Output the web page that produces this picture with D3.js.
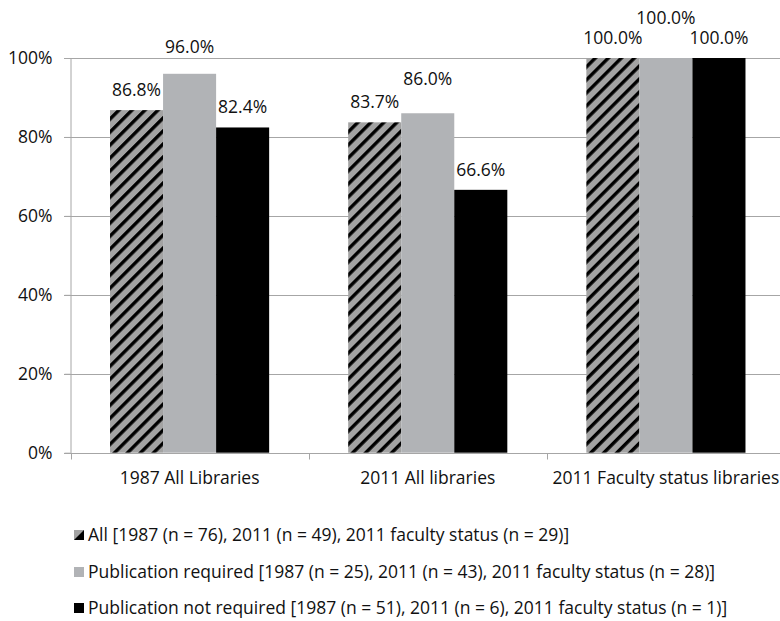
<!DOCTYPE html>
<html>
<head>
<meta charset="utf-8">
<script src="https://cdn.jsdelivr.net/npm/d3@7"></script>
<style>
  html, body { margin: 0; padding: 0; background: #fff; }
  svg { display: block; font-family: "Open Sans", sans-serif; }
</style>
</head>
<body>
<svg id="chart" width="780" height="621"></svg>
<script>
// ---- data ----
const categories = ["1987 All Libraries", "2011 All libraries", "2011 Faculty status libraries"];
const seriesNames = [
  "All [1987 (n = 76), 2011 (n = 49), 2011 faculty status (n = 29)]",
  "Publication required [1987 (n = 25), 2011 (n = 43), 2011 faculty status (n  = 28)]",
  "Publication not required [1987 (n = 51), 2011 (n = 6), 2011 faculty status (n = 1)]"
];
const allValues = [0.868, 0.837, 1.0];
const pubRequired = [0.96, 0.86, 1.0];
const pubNotRequired = [0.824, 0.666, 1.0];
const yTicks = [0, 0.2, 0.4, 0.6, 0.8, 1.0];

const seriesValues = [allValues, pubRequired, pubNotRequired];

// ---- layout ----
const svg = d3.select("#chart");
const mLeft = 70.5, mRight = 785, mTop = 58, mBottom = 452.7;
const FS = 17.5;

const defs = svg.append("defs");
const pat = defs.append("pattern")
  .attr("id", "hatch")
  .attr("patternUnits", "userSpaceOnUse")
  .attr("width", 9.2).attr("height", 9.2)
  .attr("patternTransform", "rotate(45)");
pat.append("rect").attr("width", 9.2).attr("height", 9.2).attr("fill", "#a3a3a3");
pat.append("rect").attr("x", 0).attr("width", 3.4).attr("height", 9.2).attr("fill", "#000");

const fills = ["url(#hatch)", "#b1b3b6", "#000000"];

const y = d3.scaleLinear().domain([0, 1]).range([mBottom, mTop]);
const x0 = d3.scaleBand().domain(categories).range([mLeft, mRight]).paddingInner(0).paddingOuter(0);
const x1 = d3.scaleBand().domain(d3.range(seriesValues.length)).range([0, x0.bandwidth()]).paddingInner(0).paddingOuter(0.745);

// gridlines
svg.append("g").selectAll("line").data(yTicks.filter(d => d > 0)).join("line")
  .attr("x1", 64).attr("x2", 780)
  .attr("y1", d => Math.round(y(d)) + 0.5).attr("y2", d => Math.round(y(d)) + 0.5)
  .attr("stroke", "#a6a6a6").attr("stroke-width", 1);

// y axis
const yAxis = d3.axisLeft(y).tickValues(yTicks).tickFormat(d3.format(".0%")).tickSizeInner(6).tickSizeOuter(0).tickPadding(12);
const yg = svg.append("g").attr("transform", `translate(${mLeft},0)`).call(yAxis);
yg.select(".domain").attr("stroke", "#a6a6a6");
yg.selectAll(".tick line").attr("stroke", "#a6a6a6");
yg.selectAll(".tick text").attr("font-size", FS).attr("font-family", "Open Sans").attr("fill", "#111");

// bars
const groups = svg.append("g").selectAll("g").data(categories).join("g")
  .attr("transform", d => `translate(${x0(d)},0)`);
groups.selectAll("rect").data((c, ci) => seriesValues.map((vals, si) => ({ si, v: vals[ci] }))).join("rect")
  .attr("x", d => x1(d.si))
  .attr("width", x1.bandwidth())
  .attr("y", d => y(d.v))
  .attr("height", d => mBottom - y(d.v))
  .attr("fill", d => fills[d.si]);

// x axis
const xg = svg.append("g").attr("transform", `translate(0,${Math.round(mBottom) + 0.5})`);
xg.append("line").attr("x1", 64).attr("x2", 780).attr("stroke", "#a6a6a6");
xg.selectAll("line.tk").data(categories).join("line").attr("class", "tk")
  .attr("x1", d => Math.round(x0(d)) + 0.5)
  .attr("x2", d => Math.round(x0(d)) + 0.5)
  .attr("y1", 0).attr("y2", 6).attr("stroke", "#a6a6a6");
xg.selectAll("text").data(categories).join("text")
  .attr("x", d => x0(d) + x0.bandwidth() / 2)
  .attr("y", 30)
  .attr("text-anchor", "middle")
  .attr("font-size", FS).attr("fill", "#111")
  .text(d => d);

// data labels (the middle series labels were lifted in the original to avoid crowding)
const labelLift = (ci, si) => si === 1 ? [7, 14, 20][ci] : 0;
groups.selectAll("text").data((c, ci) => seriesValues.map((vals, si) => ({ ci, si, v: vals[ci] }))).join("text")
  .attr("x", d => x1(d.si) + x1.bandwidth() / 2)
  .attr("y", d => y(d.v) - 14 - labelLift(d.ci, d.si))
  .attr("text-anchor", "middle")
  .attr("font-size", FS).attr("fill", "#111")
  .text(d => d3.format(".1%")(d.v));

// legend
const lg = svg.append("g");
const rowY = [535, 572, 608];
seriesNames.forEach((name, i) => {
  const g = lg.append("g").attr("transform", `translate(74,${rowY[i]})`);
  if (i === 0) {
    g.append("rect").attr("x", 0).attr("y", -5).attr("width", 10).attr("height", 10).attr("fill", "#a3a3a3");
    g.append("path").attr("d", "M10,-5 L10,5 L0,5 Z").attr("fill", "#000");
  } else {
    g.append("rect").attr("x", 0).attr("y", -5).attr("width", 10).attr("height", 10).attr("fill", fills[i]);
  }
  g.append("text").attr("x", 14).attr("y", 0).attr("dy", "0.35em")
    .attr("font-size", FS).attr("fill", "#111").text(name);
});
</script>
</body>
</html>
